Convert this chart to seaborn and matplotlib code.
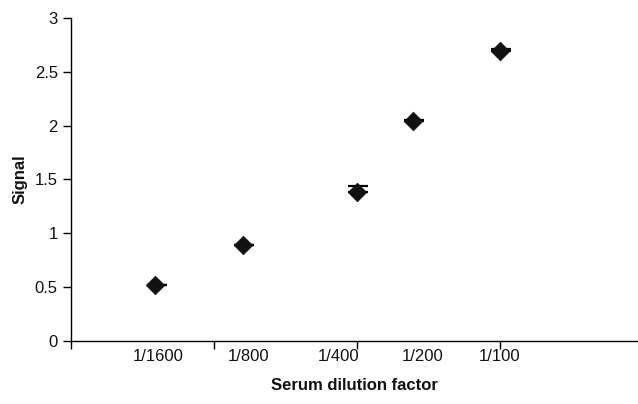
import matplotlib
matplotlib.use("Agg")
import matplotlib.pyplot as plt
import seaborn as sns
import pandas as pd

# Data
dilutions = ["1/1600", "1/800", "1/400", "1/200", "1/100"]
x_pos = [0.59, 1.20, 2.00, 2.39, 3.00]
signal = [0.52, 0.89, 1.38, 2.04, 2.69]
err_up = [0.0, 0.0, 0.06, 0.01, 0.02]
label_pos = [0.61, 1.24, 1.87, 2.46, 3.00]

df = pd.DataFrame({"x": x_pos, "signal": signal, "err": err_up, "label": dilutions})

sns.set_style("ticks")
plt.rcParams["font.family"] = ["Liberation Sans", "DejaVu Sans"]

fig = plt.figure(figsize=(6.38, 4.04), dpi=100)
ax = fig.add_axes([71 / 638, 63 / 404, 1 - 71 / 638, (341 - 18) / 404])

ax.errorbar([x + 0.01 for x in df["x"]], df["signal"],
            yerr=[[0] * len(df), list(df["err"])], fmt="none", ecolor="black",
            elinewidth=1.0, capsize=7.5, capthick=1.6, zorder=2)
sns.scatterplot(data=df, x="x", y="signal", marker="D", color="#111111",
                s=90, edgecolor="#111111", linewidth=0.5, ax=ax, zorder=3)

ax.set_xlim(0, (638 - 71) / 143)
ax.set_ylim(0, 3)
ax.set_yticks([0, 0.5, 1, 1.5, 2, 2.5, 3])
ax.set_yticklabels(["0", "0.5", "1", "1.5", "2", "2.5", "3"])
ax.set_xticks([0, 1, 2, 3])
ax.set_xticklabels([])

for xp, lab in zip(label_pos, dilutions):
    ax.text(xp, -0.145, lab, ha="center", va="center", fontsize=12, color="#111111")

ax.set_xlabel("Serum dilution factor", fontsize=12, fontweight="bold", labelpad=17,
              color="#111111")
ax.set_ylabel("Signal", fontsize=12, fontweight="bold", labelpad=5, color="#111111")

for sp in ["top", "right"]:
    ax.spines[sp].set_visible(False)
for sp in ["left", "bottom"]:
    ax.spines[sp].set_linewidth(1.0)
    ax.spines[sp].set_color("black")
ax.tick_params(axis="both", direction="out", length=6, width=1, color="black",
               labelsize=12, labelcolor="#111111")

fig.savefig("out.png", dpi=100)
